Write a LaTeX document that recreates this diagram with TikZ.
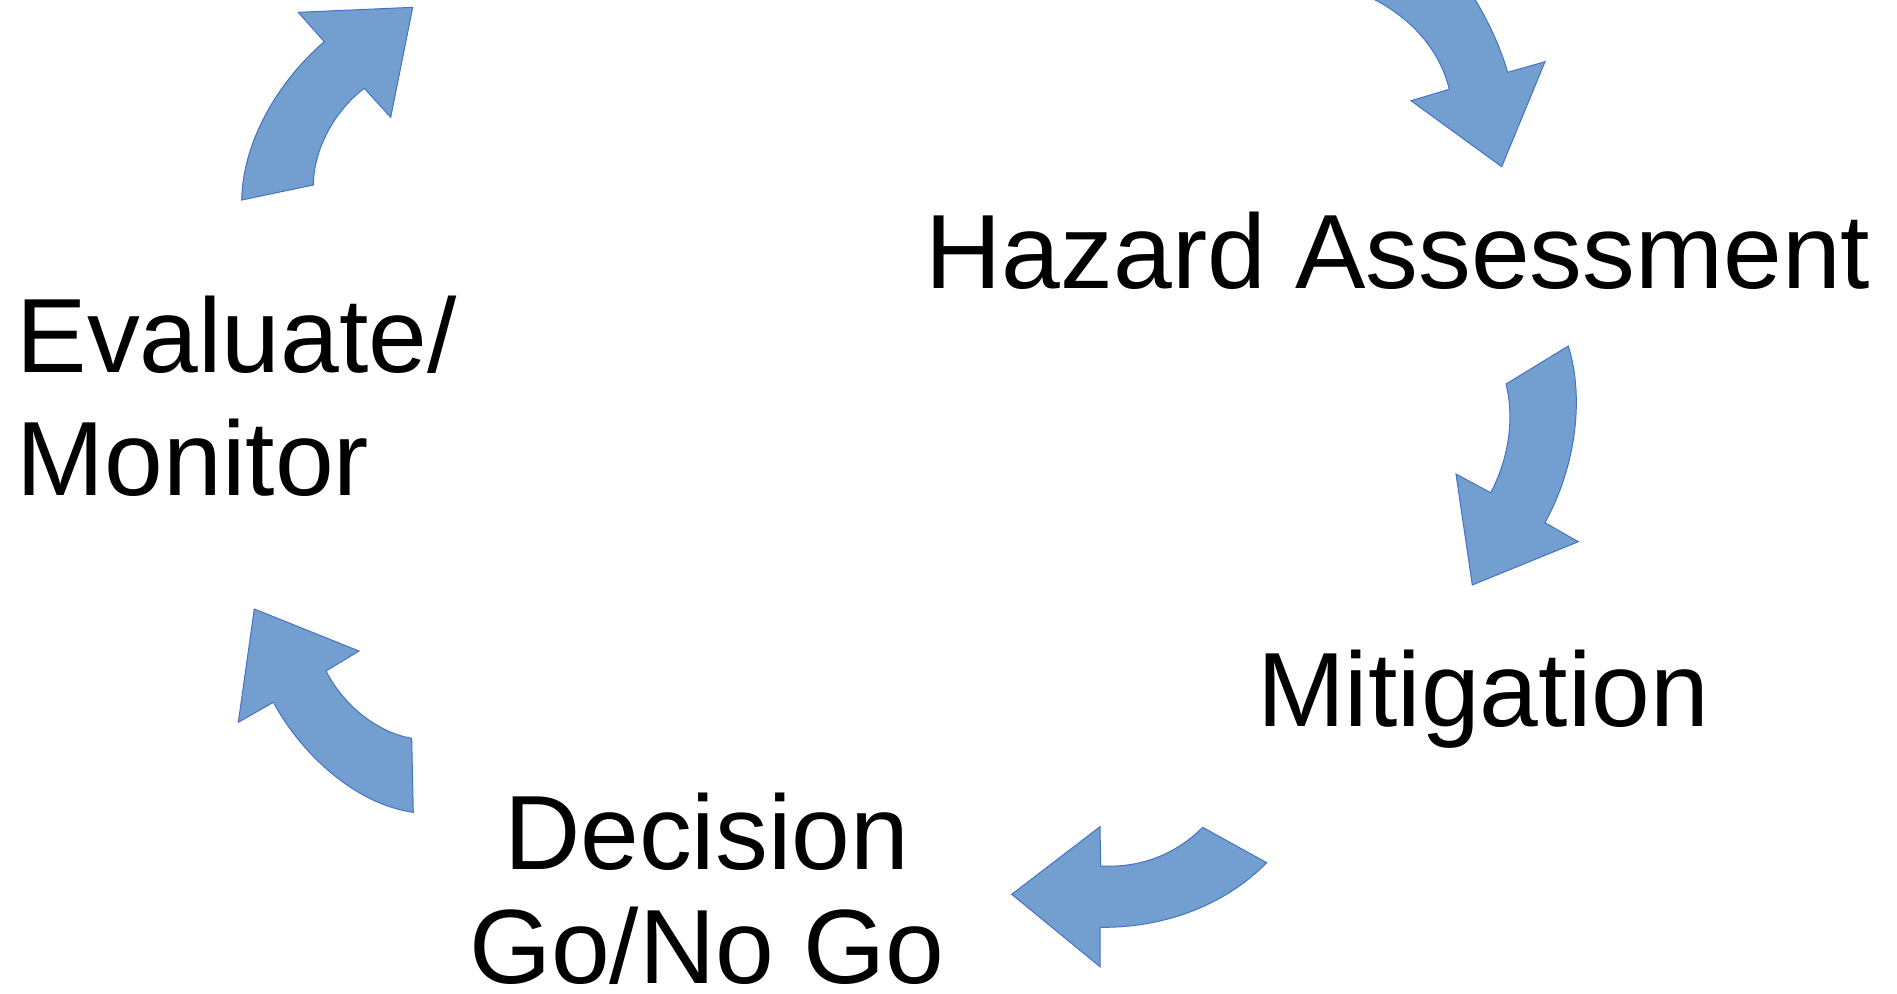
\documentclass[tikz,border=0pt]{standalone}
\usepackage{fontspec}
\setmainfont{Liberation Sans}
\definecolor{arrowfill}{RGB}{114,159,207}
\definecolor{arrowline}{RGB}{68,114,196}
\begin{document}
\begin{tikzpicture}[x=0.5pt,y=-0.5pt,
  cyclearrow/.style={fill=arrowfill,draw=arrowline,line width=0.5pt,line join=miter},
  lbl/.style={inner sep=0pt,outer sep=0pt,font=\fontsize{52.8}{60}\selectfont,text=black}]
\useasboundingbox (0,0) rectangle (1897,993);
\begin{scope}
\clip (0,0) rectangle (1897,993);
% arrows
\path[cyclearrow] (241.7,200) .. controls (243,135) and (285,75) .. (324.3,41.7)
  -- (298.3,12.3) -- (412.7,7.3) -- (390.7,117.3) -- (364.3,88.3)
  .. controls (338,108) and (314,145) .. (313.3,185) -- cycle;
\path[cyclearrow] (1365,-5) .. controls (1410,15) and (1440,50) .. (1449.3,89.3)
  -- (1411,100.7) -- (1501.7,166.7) -- (1545,61.7) -- (1507.7,72.3)
  .. controls (1498,40) and (1485,15) .. (1468,-12) -- cycle;
\path[cyclearrow] (1506,384) .. controls (1515,420) and (1508,460) .. (1490.7,492.7)
  -- (1456,474) -- (1472.3,585) -- (1578.3,541.7) -- (1545,522.7)
  .. controls (1575,468) and (1585,400) .. (1568.3,346) -- cycle;
\path[cyclearrow] (1202.7,827.3) .. controls (1175,855) and (1140,868) .. (1100.7,866)
  -- (1100,826.7) -- (1011.7,894.3) -- (1100,966.7) -- (1100,927.3)
  .. controls (1165,928) and (1225,905) .. (1266.7,862.7) -- cycle;
\path[cyclearrow] (411.7,738.3) .. controls (380,733) and (345,708) .. (326,671)
  -- (359,651) -- (254.3,609) -- (238.3,722.3) -- (273.3,702.3)
  .. controls (305,760) and (360,805) .. (413.3,812.3) -- cycle;
\end{scope}
% labels
\node[lbl,anchor=base west] (hazard) at (925.6,288.3) {Hazard Assessment};
\node[lbl,anchor=base west] (mitig) at (1257,726) {Mitigation};
\node[lbl,anchor=base west] (evalA) at (16.6,372.3) {Evaluate/};
\node[lbl,anchor=base west] (evalB) at (17,495.7) {Monitor};
\node[lbl,anchor=base] (decA) at (706.7,869) {Decision};
\node[lbl,anchor=base] (decB) at (706.7,983.5) {Go/No Go};
\end{tikzpicture}
\end{document}
